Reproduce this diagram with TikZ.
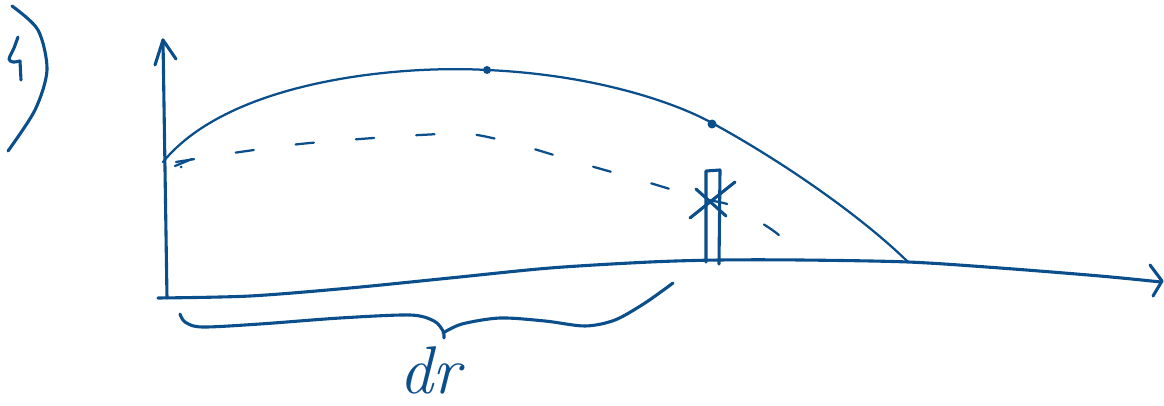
\documentclass[tikz,border=0pt]{standalone}
\usepackage{tikz}
\usetikzlibrary{calc}
\definecolor{InkBlue}{RGB}{10,78,140}

\begin{document}
\begin{tikzpicture}[x=0.025cm, y=-0.025cm,
	ink/.style={draw=InkBlue, line width=2.2pt, line cap=round, line join=round},
	thinink/.style={draw=InkBlue, line width=1.6pt, line cap=round, line join=round},
	dashink/.style={thinink, dash pattern=on 13pt off 30pt}]
	\useasboundingbox (0,0) rectangle (1164,406);
	% label 4)
	\draw[ink] plot[smooth] coordinates {(18,37) (14,48) (9,59) (13,62) (20,61)};
	\draw[ink] (20,61) -- (21,80);
	\draw[ink] plot[smooth] coordinates {(12,6) (38,30) (47,70) (35,110) (8,151)};
	% axes
	\draw[ink] (167,298) -- (163,40);
	\draw[ink] (155,65) -- (163,40) -- (176,59);
	\draw[ink] plot[smooth] coordinates {(158,298) (250,296) (350,288) (450,278) (550,268) (650,262) (720,260) (800,260) (908,262) (1000,268) (1100,276) (1161,282)};
	\draw[ink] (1150,265) -- (1162,281) -- (1153,296);
	% upper curve
	\draw[thinink] (163,162) .. controls (230,80) and (400,65) .. (487,70)
		.. controls (600,75) and (680,105) .. (712,123)
		.. controls (780,160) and (860,215) .. (908,262);
	\fill[InkBlue] (487,70) circle (4);
	\fill[InkBlue] (712,124) circle (4.5);
	% dashed curve
	\draw[dashink] plot[smooth] coordinates {(176,162) (240,152) (300,144) (360,139) (420,135) (470,134) (520,145) (580,163) (640,180) (700,198) (730,205) (760,222) (782,238) (805,268)};
	\draw[thinink] (175,166) -- (192,159);
	\fill[InkBlue] (181,167) circle (1.5);
	% marker
	\draw[ink] (706,262) -- (706,171) -- (720,170) -- (719,264);
	\draw[ink] (690,218) -- (735,182);
	\draw[ink] (696,189) -- (726,216);
	% brace
	\draw[ink] plot[smooth] coordinates {(180,314) (185,322) (202,327) (260,324) (340,318) (410,315) (434,321) (443,331) (444,338)};
	\draw[ink] plot[smooth] coordinates {(443,333) (462,324) (500,318) (545,321) (585,326) (615,320) (645,303) (673,283)};
	\node[text=InkBlue, font=\fontsize{48}{48}\selectfont\itshape] (dr) at (430,370) {dr};
\end{tikzpicture}
\end{document}
